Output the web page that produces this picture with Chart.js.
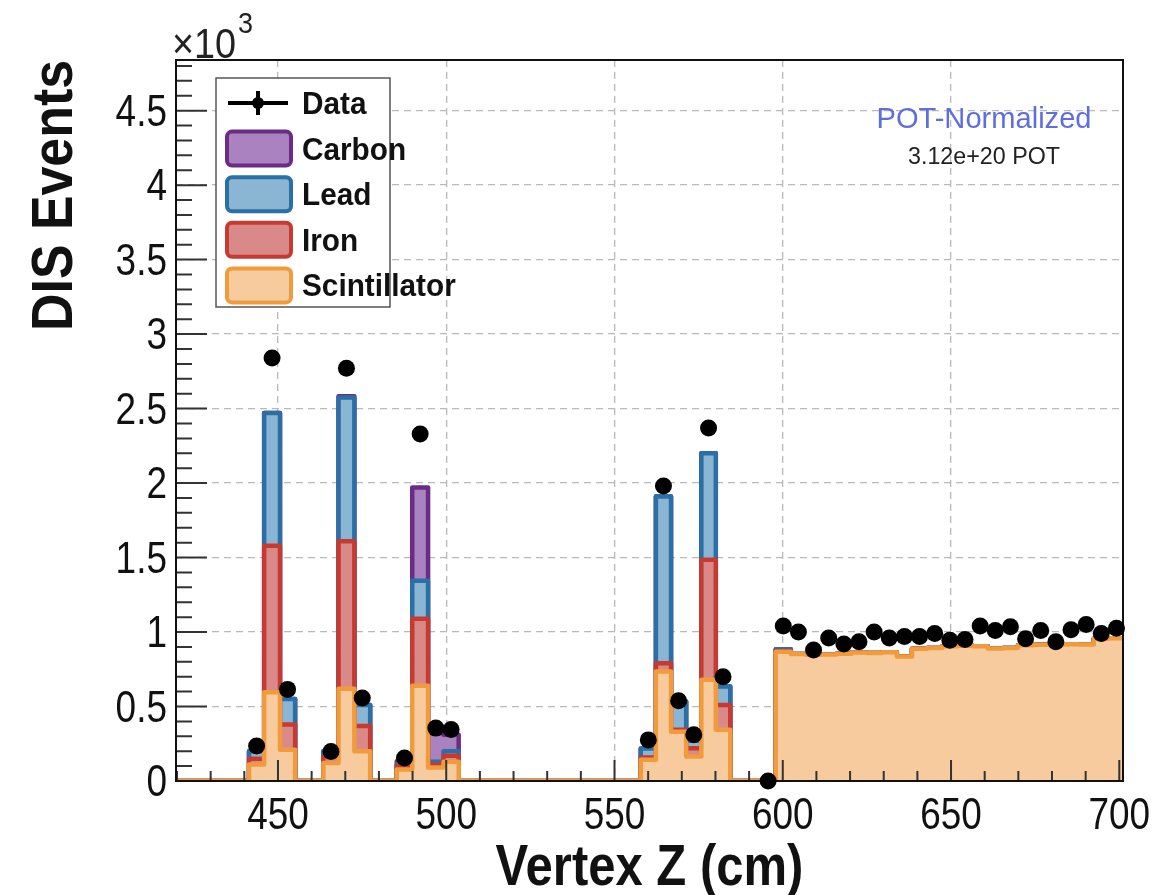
<!DOCTYPE html>
<html lang="en">
<head>
<meta charset="UTF-8">
<title>DIS Events vs Vertex Z</title>
<script src="https://cdn.jsdelivr.net/npm/chart.js@4.4.1/dist/chart.umd.min.js"></script>
<style>
  html, body { margin: 0; padding: 0; background: #fff; }
  #wrap { width: 1157px; height: 895px; }
</style>
</head>
<body>
<div id="wrap"><canvas id="vtxChart" width="1157" height="895"></canvas></div>
<script>
// bin edges in cm (targets 1-5, then tracker modules)
const binEdges = [419.7, 441.4, 445.9, 450.6, 455.1, 463.5, 468.0, 472.7, 477.4,
  485.3, 489.9, 494.6, 499.2, 503.7, 557.8, 562.3, 566.8, 571.3, 575.8, 580.1, 584.4,
  597.9, 602.4, 606.9, 611.4, 615.9, 620.4, 624.9, 629.4, 633.9, 638.4, 642.9, 647.4,
  651.9, 656.4, 660.9, 665.4, 669.9, 674.4, 678.9, 683.4, 687.9, 692.4, 696.9, 701.4];

// MC per material, x10^3 events per bin
const scintillator = [0, 0.11, 0.595, 0.21, 0, 0.12, 0.62, 0.20, 0, 0.078, 0.64, 0.09, 0.13, 0,
  0.142, 0.735, 0.33, 0.164, 0.68, 0.344, 0,
  0.868, 0.852, 0.848, 0.85, 0.855, 0.862, 0.86, 0.865, 0.835, 0.888, 0.892, 0.905,
  0.908, 0.905, 0.89, 0.892, 0.912, 0.915, 0.914, 0.918, 0.916, 0.955, 0.958];
const iron = [0, 0.04, 0.985, 0.17, 0, 0.045, 0.99, 0.17, 0, 0.025, 0.45, 0.02, 0.04, 0,
  0.016, 0.055, 0.014, 0.056, 0.805, 0.166, 0,
  0.004, 0, 0, 0, 0, 0, 0, 0, 0, 0, 0, 0, 0, 0, 0, 0, 0, 0, 0, 0, 0, 0, 0];
const lead = [0, 0.05, 0.89, 0.17, 0, 0.035, 0.965, 0.14, 0, 0.01, 0.255, 0.02, 0.03, 0,
  0.06, 1.12, 0.19, 0.05, 0.715, 0.124, 0,
  0.012, 0, 0, 0, 0, 0, 0, 0, 0, 0, 0, 0, 0, 0, 0, 0, 0, 0, 0, 0, 0, 0, 0];
const carbon = [0, 0, 0, 0, 0, 0, 0.008, 0, 0, 0.02, 0.625, 0.19, 0.11, 0,
  0, 0, 0, 0, 0, 0, 0,
  0, 0, 0, 0, 0, 0, 0, 0, 0, 0, 0, 0, 0, 0, 0, 0, 0, 0, 0, 0, 0, 0, 0];

// data points (bin centres)
const dataZ = [443.65, 448.25, 452.85, 465.75, 470.35, 475.05, 487.6, 492.25, 496.9, 501.45,
  560.05, 564.55, 569.05, 573.55, 577.95, 582.25, 595.65,
  600.15, 604.65, 609.15, 613.65, 618.15, 622.65, 627.15, 631.65, 636.15, 640.65, 645.15,
  649.65, 654.15, 658.65, 663.15, 667.65, 672.15, 676.65, 681.15, 685.65, 690.15, 694.65, 699.15];
const dataEvents = [0.235, 2.84, 0.615, 0.198, 2.77, 0.557, 0.155, 2.33, 0.355, 0.345,
  0.276, 1.98, 0.538, 0.31, 2.37, 0.70, 0,
  1.04, 1.00, 0.88, 0.96, 0.92, 0.935, 1.00, 0.96, 0.97, 0.97, 0.99,
  0.945, 0.95, 1.04, 1.01, 1.035, 0.955, 1.01, 0.935, 1.015, 1.05, 0.99, 1.025];

const xTickLabels = [450, 500, 550, 600, 650, 700];
const yTickLabels = [0, 0.5, 1, 1.5, 2, 2.5, 3, 3.5, 4, 4.5];

const COL = {
  scint:  { line: '#F29B3C', fill: '#F7CB9D' },
  iron:   { line: '#C63A32', fill: '#D98A88' },
  lead:   { line: '#2A6FA6', fill: '#8AB6D4' },
  carbon: { line: '#6B2B86', fill: '#AA82BF' }
};
const FONT = '"Liberation Sans", Arial, sans-serif';

// stack from the bottom: scintillator, iron, lead, carbon
const sumOf = (...parts) => parts[0].map((_, i) => parts.reduce((s, p) => s + p[i], 0));
const toSteps = vals => binEdges.map((e, i) => ({ x: e, y: vals[Math.min(i, vals.length - 1)] }));

const histo = (label, vals, c) => ({
  label, data: toSteps(vals), stepped: 'before', showLine: true, fill: 'origin',
  borderColor: c.line, backgroundColor: c.fill, borderWidth: 4.5,
  borderJoinStyle: 'round', pointRadius: 0, pointHoverRadius: 0
});

function condensed(ctx, text, x, y, font, sx, align, color) {
  ctx.save();
  ctx.font = font;
  ctx.fillStyle = color;
  ctx.textAlign = align;
  ctx.textBaseline = 'alphabetic';
  ctx.translate(x, y);
  ctx.scale(sx, 1);
  ctx.fillText(text, 0, 0);
  ctx.restore();
}

function swatch(ctx, x, y, w, h, c) {
  ctx.save();
  ctx.beginPath();
  if (ctx.roundRect) ctx.roundRect(x, y, w, h, 5); else ctx.rect(x, y, w, h);
  ctx.fillStyle = c.fill;
  ctx.fill();
  ctx.lineWidth = 4;
  ctx.strokeStyle = c.line;
  ctx.stroke();
  ctx.restore();
}

const rootStyle = {
  id: 'rootStyle',
  afterDatasetDraw(chart, args) {
    if (args.index !== 1) return;
    const { ctx, chartArea: a } = chart;
    const xs = chart.scales.x, ys = chart.scales.y;
    ctx.save();
    ctx.strokeStyle = '#333';
    ctx.lineWidth = 2;
    ctx.beginPath();
    for (let v = 420; v <= 700; v += 10) {
      const px = xs.getPixelForValue(v);
      const len = v % 50 === 0 ? 21 : 10;
      ctx.moveTo(px, a.bottom); ctx.lineTo(px, a.bottom - len);
    }
    for (let k = 1; k <= 48; k++) {
      const py = ys.getPixelForValue(k / 10);
      const len = k % 5 === 0 ? 31 : 16;
      ctx.moveTo(a.left, py); ctx.lineTo(a.left + len, py);
    }
    ctx.stroke();
    ctx.strokeStyle = '#111';
    ctx.strokeRect(a.left, a.top, a.right - a.left, a.bottom - a.top);
    ctx.restore();
  },
  afterDraw(chart) {
    const { ctx, chartArea: a } = chart;
    const xs = chart.scales.x, ys = chart.scales.y;
    const tickFont = '44px ' + FONT;
    const titleFont = 'bold 57px ' + FONT;

    yTickLabels.forEach(v => {
      condensed(ctx, String(v), a.left - 9, ys.getPixelForValue(v) + 15, tickFont, 0.84, 'right', '#111');
    });
    xTickLabels.forEach(v => {
      condensed(ctx, String(v), xs.getPixelForValue(v), a.bottom + 48, tickFont, 0.84, 'center', '#111');
    });

    // axis titles
    condensed(ctx, 'Vertex Z (cm)', (a.left + a.right) / 2, 885, titleFont, 0.86, 'center', '#111');
    ctx.save();
    ctx.translate(72, a.top);
    ctx.rotate(-Math.PI / 2);
    condensed(ctx, 'DIS Events', 0, 0, titleFont, 0.91, 'right', '#111');
    ctx.restore();

    // x10^3 multiplier
    ctx.save();
    ctx.font = '42px ' + FONT;
    const w10 = ctx.measureText('×10').width * 0.9;
    ctx.restore();
    condensed(ctx, '×10', 172, 58, '42px ' + FONT, 0.9, 'left', '#222');
    condensed(ctx, '3', 174 + w10, 33, '30px ' + FONT, 0.9, 'left', '#222');

    // normalisation labels
    const cx = a.right - 139;
    condensed(ctx, 'POT-Normalized', cx, a.top + 68, '30px ' + FONT, 0.97, 'center', '#5E6EE0');
    condensed(ctx, '3.12e+20 POT', cx, a.top + 104, '24px ' + FONT, 0.97, 'center', '#222');

    // legend box
    const lx = a.left + 40, ly = a.top + 18, lw = 174, lh = 229;
    ctx.save();
    ctx.fillStyle = '#fff';
    ctx.fillRect(lx, ly, lw, lh);
    ctx.strokeStyle = '#555';
    ctx.lineWidth = 1.5;
    ctx.strokeRect(lx, ly, lw, lh);
    ctx.restore();

    const rows = [
      ['Data', null], ['Carbon', COL.carbon], ['Lead', COL.lead],
      ['Iron', COL.iron], ['Scintillator', COL.scint]
    ];
    rows.forEach(([name, c], i) => {
      const cy = ly + 25 + i * 45.6;
      if (c) {
        swatch(ctx, lx + 11, cy - 17, 64, 34, c);
      } else {
        ctx.save();
        ctx.strokeStyle = '#000';
        ctx.lineWidth = 4;
        ctx.beginPath();
        ctx.moveTo(lx + 12, cy); ctx.lineTo(lx + 72, cy);
        ctx.moveTo(lx + 42, cy - 12); ctx.lineTo(lx + 42, cy + 12);
        ctx.stroke();
        ctx.beginPath();
        ctx.arc(lx + 42, cy, 6, 0, Math.PI * 2);
        ctx.fillStyle = '#000';
        ctx.fill();
        ctx.restore();
      }
      condensed(ctx, name, lx + 86, cy + 11, 'bold 31px ' + FONT, 0.96, 'left', '#111');
    });
  }
};

const gridColor = '#b9b9b9';

new Chart(document.getElementById('vtxChart').getContext('2d'), {
  type: 'line',
  data: {
    datasets: [
      {
        label: 'Data',
        data: dataZ.map((z, i) => ({ x: z, y: dataEvents[i] })),
        showLine: false, pointRadius: 8.5, pointHoverRadius: 8.5,
        pointBackgroundColor: '#000', pointBorderColor: '#000', pointBorderWidth: 0,
        clip: false
      },
      histo('Scintillator', scintillator, COL.scint),
      histo('Iron', sumOf(scintillator, iron), COL.iron),
      histo('Lead', sumOf(scintillator, iron, lead), COL.lead),
      histo('Carbon', sumOf(scintillator, iron, lead, carbon), COL.carbon)
    ]
  },
  options: {
    responsive: false,
    animation: false,
    devicePixelRatio: 1,
    layout: { padding: { left: 176, right: 34, top: 60, bottom: 114 } },
    plugins: { legend: { display: false }, tooltip: { enabled: false } },
    scales: {
      x: {
        type: 'linear', min: 419.7, max: 701.1,
        afterFit: s => { s.height = 0; },
        ticks: { display: false, stepSize: 50 },
        grid: {
          drawTicks: false, lineWidth: 1.3,
          color: c => (c.tick && Math.abs(c.tick.value % 50) < 1e-6 ? gridColor : 'rgba(0,0,0,0)')
        },
        border: { display: false, dash: [7, 5] }
      },
      y: {
        type: 'linear', min: 0, max: 4.84,
        afterFit: s => { s.width = 0; },
        ticks: { display: false, stepSize: 0.5 },
        grid: {
          drawTicks: false, lineWidth: 1.3,
          color: c => {
            const v = c.tick ? c.tick.value : 0;
            const major = Math.abs(v * 2 - Math.round(v * 2)) < 1e-6;
            return major && v > 0 && v < 4.8 ? gridColor : 'rgba(0,0,0,0)';
          }
        },
        border: { display: false, dash: [7, 5] }
      }
    }
  },
  plugins: [rootStyle]
});
</script>
</body>
</html>
